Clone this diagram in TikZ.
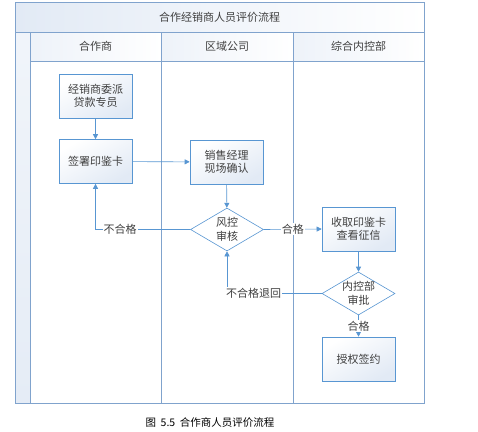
\documentclass[tikz,border=0pt]{standalone}
\usepackage{fontspec}
\newfontfamily\cjk{Noto Sans CJK SC}
\usetikzlibrary{shapes.geometric,arrows.meta}

\definecolor{lanec}{RGB}{128,163,205}
\definecolor{flowc}{RGB}{88,150,210}
\definecolor{shadec}{RGB}{226,234,245}

\tikzset{
	box/.style={draw=flowc, semithick, top color=white, bottom color=shadec, shading angle=30,
		minimum width=73pt, minimum height=44pt, inner sep=1pt, align=center},
	check/.style={diamond, draw=flowc, semithick, fill=white, minimum width=73pt, minimum height=43pt,
		aspect=1.7, inner sep=-4pt, align=center},
	flow/.style={draw=flowc, semithick, -{Triangle[length=5pt,width=5pt]}},
	tag/.style={fill=white, inner sep=1pt}
}

\begin{document}
\begin{tikzpicture}[x=1pt, y=-1pt, every node/.style={font=\cjk\fontsize{11}{13.5}\selectfont, text=black!75}]
	\useasboundingbox (0,0) rectangle (478,431);
	% lanes
	\shade[left color=shadec, right color=white] (15,2) rectangle (424,32);
	\shade[top color=shadec!50, bottom color=shadec!90] (15,32) rectangle (30,403);
	\foreach \xa/\xb in {30/161, 161/293, 293/424} {\shade[left color=shadec!60, right color=white] (\xa,32) rectangle (\xb,61);}
	\draw[lanec, semithick] (15,2) rectangle (424,403);
	\draw[lanec, semithick] (15,32) -- (424,32) (30,61) -- (424,61);
	\foreach \x in {30, 161, 293} {\draw[lanec, semithick] (\x,32) -- (\x,403);}
	\node (title) at (219.5,17) {合作经销商人员评价流程};
	\foreach \x/\n/\t in {95.5/partner/合作商, 227/region/区域公司, 358.5/control/综合内控部} {\node (\n) at (\x,46.5) {\t};}

	% steps
	\node[box] (dispatch) at (95.5,96) {经销商委派\\贷款专员};
	\node[box] (sign) at (95.5,161.5) {签署印鉴卡};
	\node[box] (confirm) at (226.5,162) {销售经理\\现场确认};
	\node[check] (risk) at (227,229.5) {风控\\审核};
	\node[box] (collect) at (358.5,229) {收取印鉴卡\\查看征信};
	\node[check] (approve) at (358.5,293.5) {内控部\\审批};
	\node[box] (contract) at (358.5,359) {授权签约};

	\draw[flow] (dispatch) -- (sign);
	\draw[flow] (sign) -- (confirm);
	\draw[flow] (confirm) -- (risk);
	\draw[flow] (risk.west) -| node[tag, pos=0.37] {不合格} (sign.south);
	\draw[flow] (risk.east) -- node[tag, pos=0.5] {合格} (collect.west);
	\draw[flow] (collect) -- (approve);
	\draw[flow] (approve.west) -| node[tag, pos=0.36] {不合格退回} (risk.south);
	\draw[flow] (approve.south) -- node[tag] {合格} (contract.north);

	\node[font=\cjk\fontsize{10.5}{12}\selectfont, text=black] (caption) at (210,423) {图\ \ 5.5\ \ 合作商人员评价流程};
\end{tikzpicture}
\end{document}
